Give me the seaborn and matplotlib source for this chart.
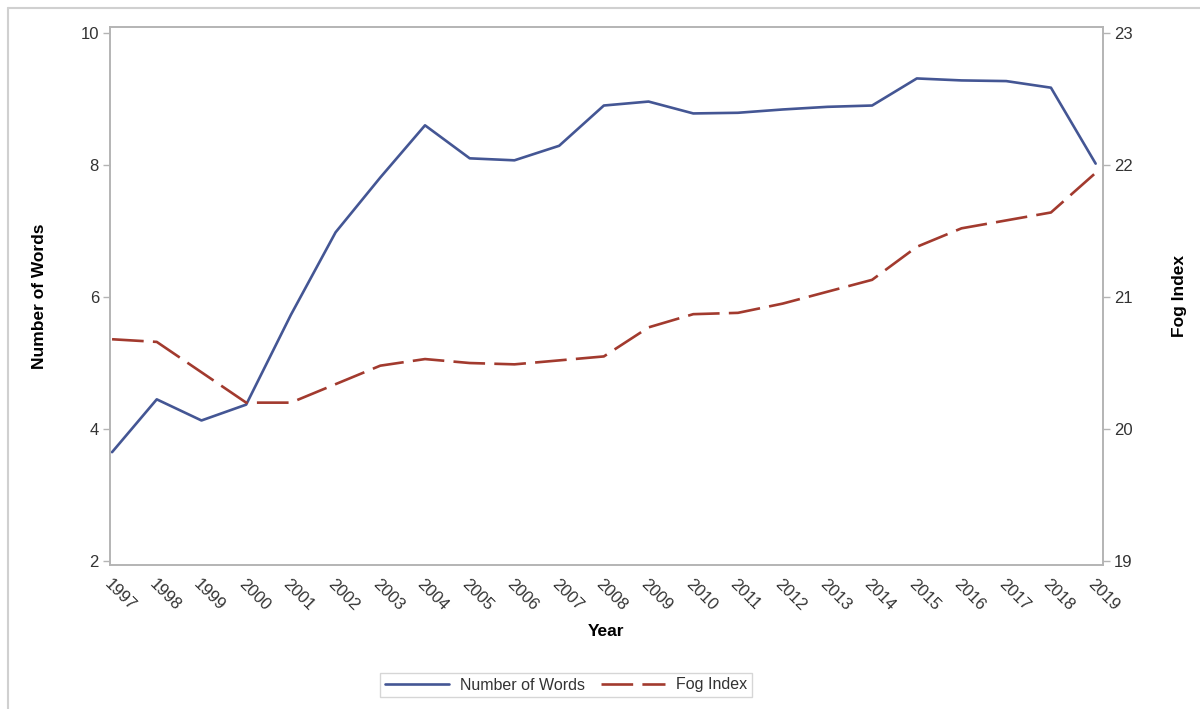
import matplotlib
matplotlib.use("Agg")
import matplotlib.pyplot as plt
from matplotlib.lines import Line2D
import seaborn as sns
import pandas as pd

years = list(range(1997, 2020))
number_of_words = [3.65, 4.45, 4.13, 4.37, 5.73, 6.98, 7.81, 8.60, 8.10, 8.07, 8.29,
                   8.90, 8.96, 8.78, 8.79, 8.84, 8.88, 8.90, 9.31, 9.28, 9.27, 9.17, 8.02]
fog_index = [20.68, 20.66, 20.43, 20.20, 20.20, 20.34, 20.48, 20.53, 20.50, 20.49, 20.52,
             20.55, 20.77, 20.87, 20.88, 20.95, 21.04, 21.13, 21.38, 21.52, 21.58, 21.64, 21.94]
left_ticks = [2, 4, 6, 8, 10]
right_ticks = [19, 20, 21, 22, 23]

df = pd.DataFrame({"Year": years, "Number of Words": number_of_words, "Fog Index": fog_index})

sns.set_theme(style="white")
plt.rcParams["font.family"] = ["Liberation Sans", "DejaVu Sans"]

BLUE = "#445694"
RED = "#A23A2E"
SPINE = "#b4b4b4"
TXT = "#333333"
DASH = (12, 3.5)

fig = plt.figure(figsize=(12, 7.09), dpi=100)
ax = fig.add_axes([0.0917, 0.203, 0.8273, 0.759])
ax2 = ax.twinx()

sns.lineplot(data=df, x="Year", y="Number of Words", ax=ax, color=BLUE, linewidth=1.9)
sns.lineplot(data=df, x="Year", y="Fog Index", ax=ax2, color=RED, linewidth=1.9,
             dashes=False)
ax2.lines[0].set_dashes(DASH)

ax.set_xlim(1996.955, 2019.16)
ax.set_ylim(1.94, 10.09)
ax2.set_ylim(18.97, 23.045)
ax.set_xticks(years)
ax.set_xticklabels([str(y) for y in years], rotation=-45, ha="left", va="top",
                   rotation_mode="anchor")
ax.set_yticks(left_ticks)
ax2.set_yticks(right_ticks)

for a in (ax, ax2):
    for s in a.spines.values():
        s.set_color(SPINE)
        s.set_linewidth(1.2)
    a.tick_params(axis="both", which="both", direction="out", length=5, width=1,
                  color=SPINE, labelcolor=TXT, labelsize=12, pad=3)

ax.set_xlabel("Year", fontsize=12.5, fontweight="bold", color="black", labelpad=8)
ax.set_ylabel("Number of Words", fontsize=12.5, fontweight="bold", color="black", labelpad=24)
ax2.set_ylabel("Fog Index", fontsize=12.5, fontweight="bold", color="black", labelpad=28)

handles = [Line2D([], [], color=BLUE, linewidth=1.9),
           Line2D([], [], color=RED, linewidth=1.9, dashes=DASH)]
fig.legend(handles, ["Number of Words", "Fog Index"], loc="center",
           bbox_to_anchor=(566 / 1200, 1 - 685 / 709), ncol=2, frameon=True,
           fontsize=11.5, handlelength=4.0, columnspacing=1.0, handletextpad=0.7,
           borderpad=0.3, fancybox=False, edgecolor="#cccccc", labelcolor=TXT)

# thin outer frame along the top and left edges
fig.add_artist(Line2D([8 / 1200, 1], [1 - 8 / 709, 1 - 8 / 709], transform=fig.transFigure,
                      color="#d0d0d0", linewidth=1.5))
fig.add_artist(Line2D([8 / 1200, 8 / 1200], [0, 1 - 8 / 709], transform=fig.transFigure,
                      color="#d0d0d0", linewidth=1.5))

fig.savefig("out.png", dpi=100)
